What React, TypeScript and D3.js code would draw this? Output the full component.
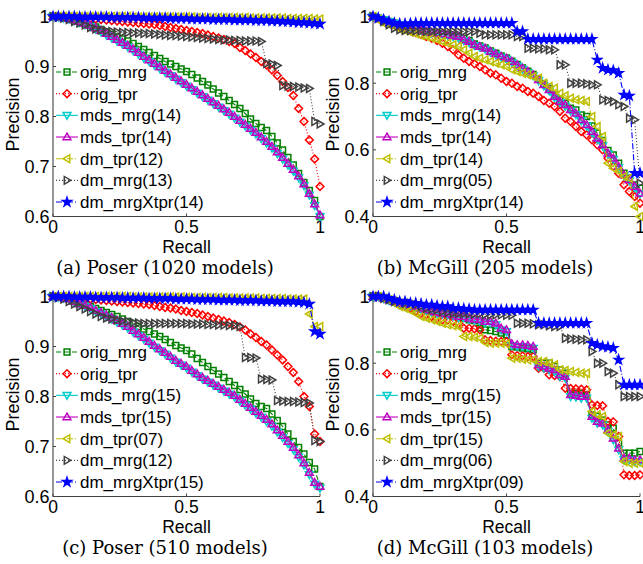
import React from "react";
import * as d3 from "d3";

// ---------- DATA ----------
const RECALL = [0,0.02,0.04,0.06,0.08,0.1,0.12,0.14,0.16,0.18,0.2,0.22,0.24,0.26,0.28,0.3,0.32,0.34,0.36,0.38,0.4,0.42,0.44,0.46,0.48,0.5,0.52,0.54,0.56,0.58,0.6,0.62,0.64,0.66,0.68,0.7,0.72,0.74,0.76,0.78,0.8,0.82,0.84,0.86,0.88,0.9,0.92,0.94,0.96,0.98,1];

const X_TICKS = [0, 0.5, 1];
const X_TICK_LABELS = ["0", "0.5", "1"];
const Y_TICKS_POSER = [0.6, 0.7, 0.8, 0.9, 1];
const Y_TICK_LABELS_POSER = ["0.6", "0.7", "0.8", "0.9", "1"];
const Y_TICKS_MCGILL = [0.4, 0.6, 0.8, 1];
const Y_TICK_LABELS_MCGILL = ["0.4", "0.6", "0.8", "1"];

// (a) Poser 1020
const A_ORIG_MRG = [1.0,0.999,0.998,0.996,0.993,0.99,0.987,0.983,0.979,0.974,0.969,0.964,0.959,0.955,0.951,0.946,0.94,0.934,0.928,0.922,0.916,0.91,0.905,0.9,0.895,0.89,0.884,0.877,0.87,0.863,0.855,0.847,0.84,0.832,0.824,0.816,0.806,0.795,0.786,0.778,0.772,0.76,0.747,0.733,0.718,0.703,0.686,0.668,0.652,0.632,0.6];
const A_ORIG_TPR = [1.0,1.0,1.0,0.999,0.999,0.998,0.997,0.996,0.995,0.994,0.993,0.992,0.991,0.99,0.989,0.988,0.987,0.986,0.985,0.984,0.982,0.98,0.978,0.976,0.974,0.972,0.97,0.968,0.966,0.963,0.96,0.957,0.954,0.95,0.946,0.938,0.932,0.925,0.918,0.91,0.903,0.893,0.882,0.87,0.858,0.842,0.816,0.79,0.753,0.715,0.66];
const A_MDS_MRG = [1.0,0.999,0.997,0.995,0.992,0.988,0.984,0.98,0.975,0.969,0.963,0.957,0.951,0.945,0.939,0.932,0.925,0.917,0.91,0.903,0.896,0.889,0.882,0.875,0.868,0.861,0.854,0.847,0.84,0.833,0.826,0.819,0.812,0.805,0.797,0.789,0.781,0.773,0.765,0.756,0.747,0.737,0.726,0.715,0.703,0.691,0.678,0.662,0.643,0.622,0.6];
const A_MDS_TPR = [1.0,0.999,0.998,0.996,0.993,0.99,0.986,0.982,0.977,0.972,0.966,0.96,0.954,0.948,0.942,0.935,0.928,0.92,0.913,0.906,0.899,0.892,0.885,0.878,0.871,0.864,0.857,0.85,0.843,0.836,0.829,0.822,0.815,0.808,0.8,0.792,0.784,0.776,0.768,0.759,0.75,0.74,0.729,0.718,0.706,0.694,0.681,0.665,0.646,0.625,0.603];
const A_DM_TPR = [1.0,1.0,1.0,1.0,1.0,1.0,1.0,1.0,1.0,1.0,1.0,1.0,1.0,1.0,1.0,0.999,0.999,0.999,0.999,0.999,0.999,0.999,0.999,0.999,0.999,0.999,0.999,0.998,0.998,0.998,0.998,0.998,0.998,0.998,0.998,0.998,0.998,0.997,0.997,0.997,0.997,0.997,0.997,0.997,0.996,0.996,0.996,0.996,0.996,0.995,0.995];
const A_DM_MRG = [1.0,0.999,0.997,0.994,0.99,0.987,0.983,0.978,0.975,0.973,0.971,0.97,0.969,0.968,0.968,0.967,0.967,0.966,0.966,0.965,0.964,0.963,0.962,0.962,0.961,0.96,0.959,0.958,0.957,0.956,0.955,0.954,0.953,0.953,0.952,0.952,0.951,0.951,0.951,0.95,0.906,0.905,0.902,0.862,0.861,0.86,0.859,0.857,0.856,0.79,0.785];
const A_DM_MRGXTPR = [1.0,1.0,1.0,1.0,1.0,0.999,0.999,0.999,0.999,0.999,0.999,0.998,0.998,0.998,0.998,0.998,0.998,0.997,0.997,0.997,0.997,0.997,0.996,0.996,0.996,0.996,0.995,0.995,0.995,0.995,0.994,0.994,0.994,0.994,0.993,0.993,0.993,0.993,0.992,0.992,0.992,0.991,0.991,0.99,0.99,0.989,0.988,0.988,0.987,0.986,0.985];

// (b) McGill 205
const B_ORIG_MRG = [1.0,0.995,0.99,0.985,0.98,0.975,0.97,0.967,0.964,0.96,0.956,0.953,0.95,0.948,0.946,0.944,0.942,0.935,0.928,0.918,0.912,0.906,0.897,0.89,0.882,0.876,0.866,0.856,0.846,0.836,0.826,0.812,0.798,0.784,0.765,0.75,0.74,0.725,0.72,0.705,0.7,0.672,0.65,0.628,0.598,0.585,0.56,0.53,0.515,0.495,0.485];
const B_ORIG_TPR = [1.0,0.995,0.99,0.98,0.975,0.97,0.965,0.958,0.952,0.946,0.94,0.935,0.928,0.92,0.91,0.9,0.885,0.875,0.865,0.858,0.85,0.84,0.83,0.825,0.815,0.805,0.8,0.79,0.785,0.775,0.77,0.76,0.748,0.74,0.73,0.715,0.695,0.685,0.67,0.655,0.645,0.63,0.615,0.6,0.575,0.55,0.53,0.495,0.475,0.46,0.44];
const B_MDS_MRG = [1.0,0.995,0.99,0.985,0.98,0.975,0.97,0.967,0.963,0.958,0.953,0.95,0.948,0.946,0.943,0.94,0.936,0.928,0.922,0.913,0.908,0.902,0.893,0.885,0.878,0.872,0.862,0.852,0.842,0.832,0.822,0.807,0.792,0.777,0.757,0.742,0.731,0.717,0.706,0.687,0.672,0.652,0.632,0.612,0.588,0.572,0.547,0.522,0.507,0.487,0.468];
const B_MDS_TPR = [1.0,0.995,0.99,0.985,0.98,0.975,0.97,0.968,0.965,0.96,0.955,0.952,0.95,0.948,0.945,0.942,0.94,0.93,0.925,0.915,0.91,0.905,0.895,0.888,0.88,0.875,0.865,0.855,0.845,0.835,0.825,0.81,0.795,0.78,0.76,0.745,0.735,0.72,0.71,0.69,0.675,0.655,0.635,0.615,0.59,0.575,0.55,0.525,0.51,0.49,0.47];
const B_DM_TPR = [1.0,0.99,0.98,0.975,0.97,0.962,0.958,0.953,0.948,0.943,0.94,0.935,0.93,0.925,0.92,0.915,0.91,0.9,0.89,0.88,0.875,0.87,0.865,0.86,0.855,0.85,0.84,0.835,0.83,0.825,0.82,0.815,0.8,0.79,0.785,0.77,0.762,0.755,0.75,0.748,0.745,0.7,0.67,0.64,0.56,0.545,0.535,0.52,0.515,0.43,0.4];
const B_DM_MRG = [1.0,0.995,0.985,0.975,0.965,0.96,0.958,0.958,0.957,0.957,0.956,0.956,0.956,0.955,0.955,0.955,0.955,0.955,0.955,0.955,0.95,0.945,0.945,0.945,0.945,0.945,0.945,0.94,0.94,0.905,0.905,0.903,0.903,0.9,0.9,0.855,0.855,0.8,0.8,0.8,0.798,0.795,0.795,0.75,0.748,0.745,0.735,0.73,0.695,0.69,0.5];
const B_DM_MRGXTPR = [1.0,0.995,0.99,0.985,0.98,0.978,0.978,0.979,0.98,0.98,0.98,0.98,0.98,0.98,0.98,0.98,0.98,0.98,0.98,0.98,0.98,0.98,0.98,0.98,0.98,0.98,0.98,0.955,0.955,0.932,0.932,0.932,0.932,0.932,0.932,0.932,0.932,0.932,0.932,0.932,0.932,0.932,0.87,0.845,0.84,0.838,0.83,0.765,0.762,0.53,0.53];

// (c) Poser 510
const C_ORIG_MRG = [1.0,0.999,0.998,0.996,0.992,0.988,0.985,0.98,0.976,0.972,0.968,0.964,0.96,0.955,0.95,0.946,0.94,0.935,0.93,0.925,0.92,0.914,0.908,0.902,0.897,0.892,0.885,0.876,0.868,0.86,0.852,0.845,0.838,0.83,0.822,0.814,0.805,0.795,0.786,0.78,0.776,0.765,0.752,0.74,0.725,0.71,0.698,0.685,0.668,0.655,0.62];
const C_ORIG_TPR = [1.0,1.0,1.0,0.999,0.998,0.997,0.996,0.995,0.994,0.993,0.992,0.991,0.99,0.989,0.988,0.987,0.986,0.985,0.984,0.982,0.98,0.978,0.977,0.975,0.972,0.97,0.968,0.966,0.963,0.96,0.957,0.954,0.951,0.948,0.944,0.939,0.933,0.925,0.918,0.91,0.903,0.893,0.883,0.873,0.86,0.848,0.83,0.8,0.78,0.725,0.71];
const C_MDS_MRG = [1.0,0.999,0.997,0.994,0.989,0.984,0.98,0.976,0.97,0.965,0.96,0.955,0.949,0.943,0.937,0.929,0.922,0.915,0.907,0.899,0.892,0.885,0.877,0.869,0.863,0.857,0.849,0.842,0.835,0.829,0.823,0.817,0.811,0.805,0.799,0.791,0.783,0.775,0.767,0.759,0.75,0.741,0.729,0.718,0.706,0.694,0.679,0.663,0.644,0.625,0.617];
const C_MDS_TPR = [1.0,0.999,0.998,0.995,0.99,0.985,0.982,0.978,0.972,0.968,0.963,0.958,0.952,0.946,0.94,0.932,0.925,0.918,0.91,0.902,0.895,0.888,0.88,0.872,0.866,0.86,0.852,0.845,0.838,0.832,0.826,0.82,0.814,0.808,0.802,0.794,0.786,0.778,0.77,0.762,0.754,0.745,0.733,0.722,0.71,0.698,0.683,0.667,0.648,0.628,0.62];
const C_DM_TPR = [1.0,1.0,1.0,1.0,1.0,1.0,1.0,1.0,1.0,1.0,1.0,1.0,1.0,1.0,1.0,0.999,0.999,0.999,0.999,0.999,0.999,0.999,0.999,0.999,0.999,0.998,0.998,0.998,0.998,0.998,0.998,0.998,0.998,0.997,0.997,0.997,0.997,0.997,0.997,0.996,0.996,0.996,0.996,0.996,0.995,0.995,0.995,0.995,0.965,0.94,0.94];
const C_DM_MRG = [1.0,0.998,0.995,0.99,0.985,0.98,0.975,0.97,0.965,0.96,0.957,0.955,0.953,0.951,0.95,0.948,0.947,0.946,0.946,0.946,0.946,0.946,0.946,0.946,0.946,0.946,0.945,0.945,0.945,0.944,0.944,0.943,0.943,0.942,0.942,0.94,0.878,0.878,0.877,0.835,0.834,0.833,0.792,0.791,0.79,0.79,0.789,0.788,0.787,0.712,0.71];
const C_DM_MRGXTPR = [1.0,1.0,1.0,1.0,0.999,0.999,0.999,0.999,0.998,0.998,0.998,0.998,0.998,0.997,0.997,0.997,0.997,0.997,0.996,0.996,0.996,0.996,0.996,0.995,0.995,0.995,0.995,0.994,0.994,0.994,0.994,0.993,0.993,0.993,0.993,0.992,0.992,0.992,0.992,0.991,0.991,0.991,0.99,0.99,0.99,0.99,0.989,0.988,0.985,0.93,0.925];

// (d) McGill 103
const D_ORIG_MRG = [1.0,1.0,0.995,0.99,0.985,0.98,0.975,0.972,0.968,0.962,0.958,0.955,0.95,0.948,0.945,0.94,0.938,0.935,0.93,0.928,0.905,0.9,0.898,0.895,0.89,0.885,0.85,0.848,0.845,0.843,0.84,0.8,0.8,0.8,0.79,0.78,0.77,0.71,0.71,0.71,0.705,0.645,0.64,0.63,0.615,0.605,0.56,0.53,0.53,0.53,0.535];
const D_ORIG_TPR = [1.0,1.0,0.995,0.99,0.985,0.975,0.97,0.965,0.955,0.95,0.945,0.94,0.935,0.93,0.93,0.925,0.92,0.905,0.905,0.903,0.9,0.87,0.868,0.866,0.865,0.865,0.825,0.823,0.822,0.82,0.82,0.785,0.785,0.765,0.763,0.76,0.725,0.724,0.723,0.722,0.72,0.675,0.673,0.672,0.625,0.624,0.58,0.465,0.463,0.463,0.465];
const D_MDS_MRG = [1.0,1.0,0.994,0.988,0.983,0.978,0.975,0.972,0.967,0.962,0.957,0.952,0.949,0.947,0.945,0.942,0.937,0.936,0.931,0.928,0.926,0.921,0.92,0.915,0.9,0.895,0.853,0.85,0.85,0.848,0.845,0.79,0.785,0.78,0.775,0.76,0.755,0.7,0.698,0.695,0.695,0.635,0.62,0.615,0.595,0.57,0.54,0.51,0.51,0.505,0.505];
const D_MDS_TPR = [1.0,1.0,0.995,0.99,0.985,0.98,0.978,0.975,0.97,0.965,0.96,0.955,0.952,0.95,0.948,0.945,0.94,0.94,0.935,0.932,0.93,0.925,0.925,0.92,0.905,0.9,0.858,0.855,0.855,0.853,0.85,0.795,0.79,0.785,0.78,0.765,0.76,0.705,0.703,0.7,0.7,0.64,0.625,0.62,0.6,0.575,0.545,0.515,0.515,0.51,0.51];
const D_DM_TPR = [1.0,1.0,0.995,0.99,0.98,0.97,0.965,0.958,0.95,0.94,0.935,0.93,0.925,0.92,0.915,0.912,0.91,0.88,0.88,0.878,0.875,0.862,0.86,0.86,0.86,0.858,0.815,0.815,0.812,0.81,0.81,0.805,0.805,0.8,0.795,0.78,0.778,0.775,0.772,0.77,0.77,0.655,0.645,0.64,0.59,0.585,0.58,0.505,0.5,0.5,0.5];
const D_DM_MRG = [1.0,1.0,0.995,0.99,0.985,0.985,0.98,0.98,0.975,0.97,0.965,0.962,0.96,0.955,0.952,0.95,0.95,0.948,0.948,0.948,0.948,0.946,0.945,0.945,0.945,0.944,0.944,0.92,0.92,0.92,0.918,0.915,0.915,0.912,0.91,0.91,0.875,0.873,0.872,0.87,0.87,0.835,0.8,0.8,0.775,0.77,0.735,0.7,0.7,0.7,0.7];
const D_DM_MRGXTPR = [1.0,1.0,1.0,0.995,0.99,0.985,0.985,0.98,0.98,0.978,0.975,0.975,0.972,0.97,0.97,0.965,0.965,0.963,0.962,0.96,0.96,0.96,0.96,0.96,0.96,0.96,0.96,0.96,0.96,0.96,0.96,0.92,0.92,0.92,0.92,0.92,0.92,0.92,0.92,0.92,0.92,0.86,0.855,0.85,0.848,0.845,0.81,0.735,0.735,0.735,0.735];

const LABELS_A = ["orig_mrg", "orig_tpr", "mds_mrg(14)", "mds_tpr(14)", "dm_tpr(12)", "dm_mrg(13)", "dm_mrgXtpr(14)"];
const LABELS_B = ["orig_mrg", "orig_tpr", "mds_mrg(14)", "mds_tpr(14)", "dm_tpr(14)", "dm_mrg(05)", "dm_mrgXtpr(14)"];
const LABELS_C = ["orig_mrg", "orig_tpr", "mds_mrg(15)", "mds_tpr(15)", "dm_tpr(07)", "dm_mrg(12)", "dm_mrgXtpr(15)"];
const LABELS_D = ["orig_mrg", "orig_tpr", "mds_mrg(15)", "mds_tpr(15)", "dm_tpr(15)", "dm_mrg(06)", "dm_mrgXtpr(09)"];

const CAPTIONS = ["(a) Poser (1020 models)", "(b) McGill (205 models)", "(c) Poser (510 models)", "(d) McGill (103 models)"];

// ---------- STYLES ----------
const COLORS = ["#008000", "#ff0000", "#00cccc", "#c000c0", "#bfbf00", "#404040", "#0000ff"];
const DASHES = ["5,3", "1,2", "none", "none", "6,2,1,2", "1,2", "6,2,1,2"];
const MARKERS = ["square", "diamond", "triDown", "triUp", "triLeft", "triRight", "star"];

const starPath = d3.symbol().type(d3.symbolStar).size(24)() as string;

function markerPath(kind: string): string {
  const c = 3.9;
  switch (kind) {
    case "square": { const a = 2.9; return `M${-a},${-a}h${2 * a}v${2 * a}h${-2 * a}Z`; }
    case "diamond": { const b = 3.9; return `M0,${-b}L${b},0L0,${b}L${-b},0Z`; }
    case "triDown": return `M${-c},${-c * 0.7}L${c},${-c * 0.7}L0,${c}Z`;
    case "triUp": return `M0,${-c}L${c},${c * 0.7}L${-c},${c * 0.7}Z`;
    case "triLeft": return `M${-c},0L${c * 0.7},${-c}L${c * 0.7},${c}Z`;
    case "triRight": return `M${c},0L${-c * 0.7},${-c}L${-c * 0.7},${c}Z`;
    default: return starPath;
  }
}

const SANS = "'Liberation Sans', Arial, sans-serif";
const SERIF = "'DejaVu Serif', serif";

type PanelDef = {
  ox: number; oy: number; yMin: number;
  yTicks: number[]; yTickLabels: string[];
  series: number[][]; labels: string[]; caption: string;
};

const PANELS: PanelDef[] = [
  { ox: 0, oy: 0, yMin: 0.6, yTicks: Y_TICKS_POSER, yTickLabels: Y_TICK_LABELS_POSER,
    series: [A_ORIG_MRG, A_ORIG_TPR, A_MDS_MRG, A_MDS_TPR, A_DM_TPR, A_DM_MRG, A_DM_MRGXTPR], labels: LABELS_A, caption: CAPTIONS[0] },
  { ox: 320, oy: 0, yMin: 0.4, yTicks: Y_TICKS_MCGILL, yTickLabels: Y_TICK_LABELS_MCGILL,
    series: [B_ORIG_MRG, B_ORIG_TPR, B_MDS_MRG, B_MDS_TPR, B_DM_TPR, B_DM_MRG, B_DM_MRGXTPR], labels: LABELS_B, caption: CAPTIONS[1] },
  { ox: 0, oy: 280, yMin: 0.6, yTicks: Y_TICKS_POSER, yTickLabels: Y_TICK_LABELS_POSER,
    series: [C_ORIG_MRG, C_ORIG_TPR, C_MDS_MRG, C_MDS_TPR, C_DM_TPR, C_DM_MRG, C_DM_MRGXTPR], labels: LABELS_C, caption: CAPTIONS[2] },
  { ox: 320, oy: 280, yMin: 0.4, yTicks: Y_TICKS_MCGILL, yTickLabels: Y_TICK_LABELS_MCGILL,
    series: [D_ORIG_MRG, D_ORIG_TPR, D_MDS_MRG, D_MDS_TPR, D_DM_TPR, D_DM_MRG, D_DM_MRGXTPR], labels: LABELS_D, caption: CAPTIONS[3] },
];

function Panel({ p }: { p: PanelDef }) {
  const L = p.ox + 53, R = p.ox + 320, T = p.oy + 16.5, B = p.oy + 216.5;
  const x = d3.scaleLinear().domain([0, 1]).range([L, R]);
  const y = d3.scaleLinear().domain([p.yMin, 1]).range([B, T]);
  const line = d3.line<number>().x((_, i) => x(RECALL[i])).y((v) => y(v));
  const axisColor = "#404040";
  const legendX = p.ox + 67;
  const legendY0 = p.oy + 72;
  const legendStep = 21.67;

  return (
    <g>
      {/* axes */}
      <line x1={L} x2={L} y1={T} y2={B} stroke={axisColor} strokeWidth={1.1} />
      <line x1={L} x2={R} y1={B} y2={B} stroke={axisColor} strokeWidth={1.1} />
      {X_TICKS.map((t, i) => (
        <g key={"xt" + i}>
          <line x1={x(t)} x2={x(t)} y1={B} y2={B - 3} stroke={axisColor} />
          <text x={x(t)} y={B + 16.8} textAnchor="middle" fontFamily={SANS} fontSize={17.5} fill="#000">{X_TICK_LABELS[i]}</text>
        </g>
      ))}
      {p.yTicks.map((t, i) => (
        <g key={"yt" + i}>
          <line x1={L} x2={L + 3} y1={y(t)} y2={y(t)} stroke={axisColor} />
          <text x={L - 3.5} y={y(t)} dy="0.36em" textAnchor="end" fontFamily={SANS} fontSize={18} fill="#000">{p.yTickLabels[i]}</text>
        </g>
      ))}
      <text x={(L + R) / 2} y={p.oy + 253} textAnchor="middle" fontFamily={SANS} fontSize={17.5} fill="#000">Recall</text>
      <text transform={`translate(${p.ox + 19},${(T + B) / 2 - 2}) rotate(-90)`} textAnchor="middle" fontFamily={SANS} fontSize={18} fill="#000">Precision</text>

      {/* series */}
      {p.series.map((s, si) => (
        <g key={"s" + si}>
          <path d={line(s.slice(0, RECALL.length)) || ""} fill="none" stroke={COLORS[si]} strokeWidth={1.1}
            strokeDasharray={DASHES[si] === "none" ? undefined : DASHES[si]} />
          {s.slice(0, RECALL.length).map((v, i) => (
            <path key={i} d={markerPath(MARKERS[si])} transform={`translate(${x(RECALL[i])},${y(v)})`}
              fill={MARKERS[si] === "star" ? COLORS[si] : "none"} stroke={COLORS[si]} strokeWidth={1.5} />
          ))}
        </g>
      ))}

      {/* legend */}
      {p.labels.map((lab, i) => {
        const ly = legendY0 + i * legendStep;
        return (
          <g key={"lg" + i}>
            <line x1={legendX - 11} x2={legendX + 11} y1={ly} y2={ly} stroke={COLORS[i]} strokeWidth={1.1}
              strokeDasharray={DASHES[i] === "none" ? undefined : DASHES[i]} />
            <path d={markerPath(MARKERS[i])} transform={`translate(${legendX},${ly})`}
              fill={MARKERS[i] === "star" ? COLORS[i] : "none"} stroke={COLORS[i]} strokeWidth={1.5} />
            <text x={p.ox + 80} y={ly} dy="0.36em" fontFamily={SANS} fontSize={17} fill="#000">{lab}</text>
          </g>
        );
      })}

      {/* caption */}
      <text x={p.ox + 165} y={p.oy + 274} textAnchor="middle" fontFamily={SERIF} fontSize={18} fill="#000">{p.caption}</text>
    </g>
  );
}

export default function App() {
  return (
    <svg width={643} height={564} viewBox="0 0 643 564"
      style={{ position: "absolute", left: 0, top: 0, background: "#fff", display: "block" }}>
      <rect x={0} y={0} width={643} height={564} fill="#fff" />
      {PANELS.map((p, i) => <Panel key={i} p={p} />)}
    </svg>
  );
}
